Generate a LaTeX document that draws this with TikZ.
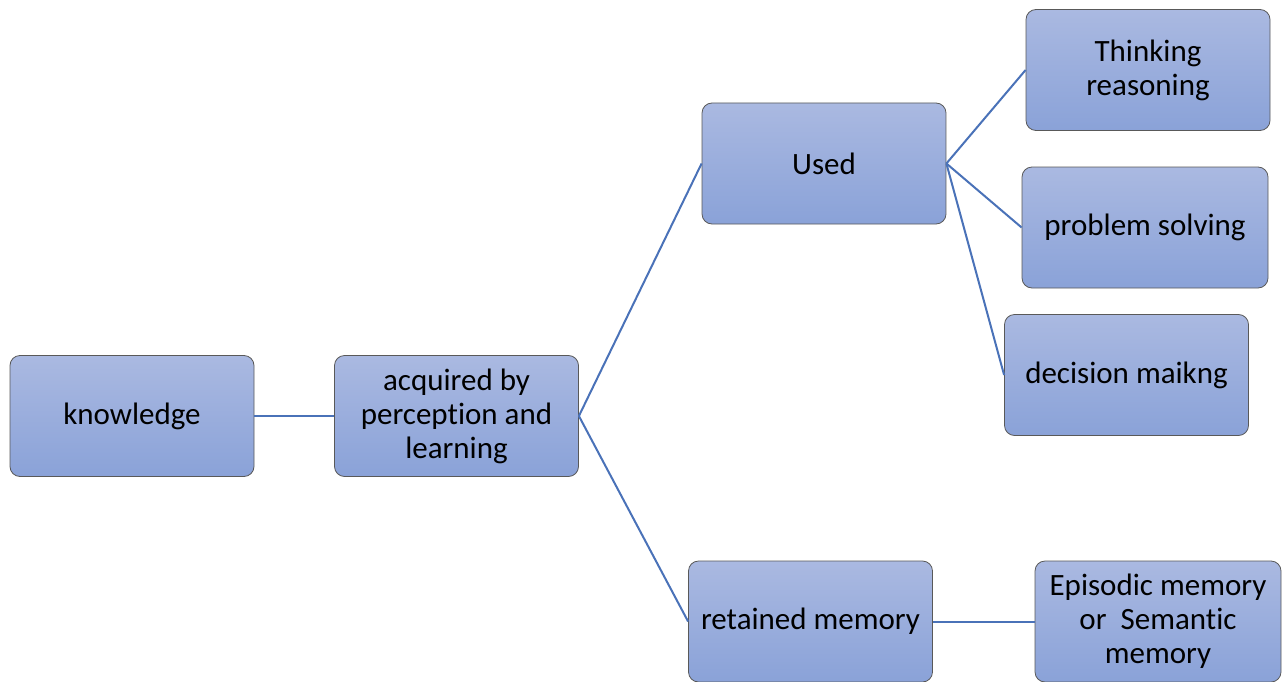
\documentclass[tikz,border=0pt]{standalone}
\usepackage{fontspec}
\setmainfont[Ligatures=NoCommon]{Carlito}
\tikzset{
  box/.style={draw=black!65, line width=0.8pt, rounded corners=10pt,
    top color=boxtop, bottom color=boxbot, minimum width=244pt,
    minimum height=121pt, align=center, inner sep=2pt,
    font=\fontsize{31}{34}\selectfont},
  link/.style={draw=linkblue, line width=2pt}
}
\definecolor{boxtop}{HTML}{AAB9E1}
\definecolor{boxbot}{HTML}{8AA2D8}
\definecolor{linkblue}{HTML}{4A72B8}

\begin{document}
\begin{tikzpicture}[x=1pt,y=-1pt]
  \useasboundingbox (0,0) rectangle (1284,682);

  \node[box] (know) at (132,416) {knowledge};
  \node[box] (acq) at (456.5,416) {acquired by\\perception and\\learning};
  \node[box] (used) at (824,163.5) {Used};
  \node[box] (ret) at (810.5,621.5) {retained memory};
  \node[box] (think) at (1148,70) {Thinking\\reasoning};
  \node[box, minimum width=246pt] (prob) at (1145,227.5) {problem solving};
  \node[box] (dec) at (1126.5,375) {decision maikng};
  \node[box, minimum width=246pt] (epi) at (1158,621.5) {Episodic memory\\or\ \ Semantic\\memory};

  \draw[link] (know.east) -- (acq.west);
  \draw[link] (acq.east) -- (used.west);
  \draw[link] (acq.east) -- (ret.west);
  \foreach \n in {think,prob,dec}
    \draw[link] (used.east) -- (\n.west);
  \draw[link] (ret.east) -- (epi.west);
\end{tikzpicture}
\end{document}
